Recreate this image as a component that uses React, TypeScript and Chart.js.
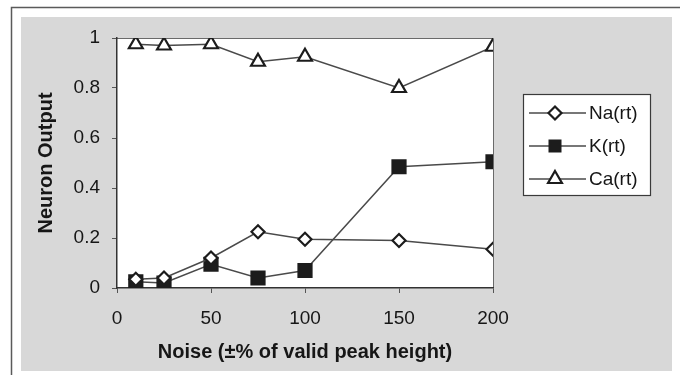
import React, { useEffect, useRef } from 'react';
import { Chart, registerables } from 'chart.js';

Chart.register(...registerables);

// Noise level (± % of valid peak height) on the x axis
const noiseLevels = [10, 25, 50, 75, 100, 150, 200];

// Neuron outputs for each ion channel
const naOutput = [0.035, 0.04, 0.12, 0.225, 0.195, 0.19, 0.155];
const kOutput = [0.025, 0.02, 0.095, 0.04, 0.07, 0.485, 0.505];
const caOutput = [0.975, 0.97, 0.975, 0.905, 0.925, 0.8, 0.965];

const seriesNames = ['Na(rt)', 'K(rt)', 'Ca(rt)'];

const xTicks = [0, 50, 100, 150, 200];
const yTicks = [0, 0.2, 0.4, 0.6, 0.8, 1];
const yTickLabels = ['0', '0.2', '0.4', '0.6', '0.8', '1'];

const xTitle = 'Noise (±% of valid peak height)';
const yTitle = 'Neuron Output';

const FONT = '"Liberation Sans", Arial, Helvetica, sans-serif';
const LINE = '#4a4a4a';
const MARK = '#1c1c1c';
const PAPER = '#d8d8d8';
const TEXT = '#161616';

type Shape = 'diamond' | 'square' | 'triangle';
const legendShapes: Shape[] = ['diamond', 'square', 'triangle'];

function drawShape(ctx: CanvasRenderingContext2D, shape: Shape, x: number, y: number) {
  ctx.save();
  ctx.lineWidth = 2.2;
  ctx.strokeStyle = MARK;
  ctx.fillStyle = '#ffffff';
  ctx.beginPath();
  if (shape === 'diamond') {
    const r = 6.5;
    ctx.moveTo(x, y - r);
    ctx.lineTo(x + r, y);
    ctx.lineTo(x, y + r);
    ctx.lineTo(x - r, y);
    ctx.closePath();
    ctx.fill();
    ctx.stroke();
  } else if (shape === 'square') {
    const h = 6.5;
    ctx.fillStyle = MARK;
    ctx.fillRect(x - h, y - h, 2 * h, 2 * h);
  } else {
    const r = 8;
    ctx.moveTo(x, y - r);
    ctx.lineTo(x + 0.866 * r, y + 0.5 * r);
    ctx.lineTo(x - 0.866 * r, y + 0.5 * r);
    ctx.closePath();
    ctx.fill();
    ctx.stroke();
  }
  ctx.restore();
}

// Grey sheet behind the chart, white plot area and its top/right frame
const framePlugin = {
  id: 'frame',
  beforeDraw(chart: Chart) {
    const { ctx, chartArea: a } = chart;
    ctx.save();
    ctx.fillStyle = '#ffffff';
    ctx.fillRect(0, 0, chart.width, chart.height);
    ctx.fillStyle = PAPER;
    ctx.fillRect(21, 17, 651, 354);
    ctx.strokeStyle = '#5a5a5a';
    ctx.lineWidth = 1.5;
    ctx.beginPath();
    ctx.moveTo(11.5, chart.height);
    ctx.lineTo(11.5, 7.5);
    ctx.lineTo(chart.width, 7.5);
    ctx.stroke();
    ctx.fillStyle = '#ffffff';
    ctx.fillRect(a.left, a.top, a.right - a.left, a.bottom - a.top);
    ctx.strokeStyle = '#6a6a6a';
    ctx.lineWidth = 1;
    ctx.beginPath();
    ctx.moveTo(a.left, a.top + 0.5);
    ctx.lineTo(a.right + 0.5, a.top + 0.5);
    ctx.lineTo(a.right + 0.5, a.bottom);
    ctx.stroke();
    ctx.restore();
  },
};

// Boxed legend to the right of the plot
const legendBoxPlugin = {
  id: 'legendBox',
  afterDraw(chart: Chart) {
    const { ctx } = chart;
    const box = { x: 523.5, y: 94.5, w: 127, h: 101 };
    const rows = [113, 146, 179];
    ctx.save();
    ctx.fillStyle = '#ffffff';
    ctx.fillRect(box.x, box.y, box.w, box.h);
    ctx.strokeStyle = '#3a3a3a';
    ctx.lineWidth = 1.2;
    ctx.strokeRect(box.x, box.y, box.w, box.h);
    seriesNames.forEach((name, i) => {
      const y = rows[i];
      ctx.strokeStyle = LINE;
      ctx.lineWidth = 1.5;
      ctx.beginPath();
      ctx.moveTo(529, y);
      ctx.lineTo(586, y);
      ctx.stroke();
      drawShape(ctx, legendShapes[i], 555, y);
      ctx.fillStyle = TEXT;
      ctx.font = `19px ${FONT}`;
      ctx.textAlign = 'left';
      ctx.textBaseline = 'middle';
      ctx.fillText(name, 589, y + 1);
    });
    ctx.restore();
  },
};

export default function App() {
  const canvasRef = useRef<HTMLCanvasElement | null>(null);

  useEffect(() => {
    const canvas = canvasRef.current;
    if (!canvas) return;

    const toPoints = (values: number[]) => values.map((v, i) => ({ x: noiseLevels[i], y: v }));

    const common = {
      borderColor: LINE,
      borderWidth: 1.5,
      pointBorderColor: MARK,
      pointBorderWidth: 2.2,
      pointHoverRadius: 0,
      tension: 0,
    };

    const chart = new Chart(canvas, {
      type: 'line',
      data: {
        datasets: [
          {
            ...common,
            label: seriesNames[0],
            data: toPoints(naOutput),
            pointStyle: 'rectRot',
            pointRadius: 6.5,
            pointBackgroundColor: '#ffffff',
          },
          {
            ...common,
            label: seriesNames[1],
            data: toPoints(kOutput),
            pointStyle: 'rect',
            pointRadius: 9.2,
            pointBackgroundColor: MARK,
          },
          {
            ...common,
            label: seriesNames[2],
            data: toPoints(caOutput),
            pointStyle: 'triangle',
            pointRadius: 8,
            pointBackgroundColor: '#ffffff',
          },
        ],
      },
      options: {
        responsive: false,
        animation: false,
        events: [],
        layout: { padding: { left: 0, right: 187, top: 38, bottom: 0 } },
        plugins: {
          legend: { display: false },
          tooltip: { enabled: false },
        },
        scales: {
          x: {
            type: 'linear',
            min: 0,
            max: 200,
            afterBuildTicks: (s: any) => {
              s.ticks = xTicks.map((value) => ({ value }));
            },
            afterFit: (s: any) => {
              s.height = 87;
              s.paddingLeft = 0;
              s.paddingRight = 0;
            },
            ticks: {
              color: TEXT,
              font: { family: FONT, size: 19 },
              padding: 14,
              maxRotation: 0,
            },
            grid: {
              drawOnChartArea: false,
              drawTicks: true,
              tickLength: 5,
              color: '#555555',
            },
            border: { display: true, color: '#333333', width: 1.5 },
            title: {
              display: true,
              text: xTitle,
              color: TEXT,
              font: { family: FONT, size: 20, weight: 'bold' },
              padding: { top: 0, bottom: 11 },
            },
          },
          y: {
            type: 'linear',
            min: 0,
            max: 1,
            afterBuildTicks: (s: any) => {
              s.ticks = yTicks.map((value) => ({ value }));
            },
            afterFit: (s: any) => {
              s.width = 117;
              s.paddingTop = 0;
              s.paddingBottom = 0;
            },
            ticks: {
              color: TEXT,
              font: { family: FONT, size: 19 },
              padding: 12,
              callback: (_v: any, i: number) => yTickLabels[i],
            },
            grid: {
              drawOnChartArea: false,
              drawTicks: true,
              tickLength: 5,
              color: '#555555',
            },
            border: { display: true, color: '#333333', width: 1.5 },
            title: {
              display: true,
              text: yTitle,
              color: TEXT,
              font: { family: FONT, size: 20, weight: 'bold' },
              padding: { top: 34, bottom: 0 },
            },
          },
        },
      },
      plugins: [framePlugin, legendBoxPlugin],
    });

    return () => chart.destroy();
  }, []);

  return (
    <div style={{ position: 'absolute', left: 0, top: 0, width: 680, height: 375 }}>
      <canvas ref={canvasRef} width={680} height={375} />
    </div>
  );
}
